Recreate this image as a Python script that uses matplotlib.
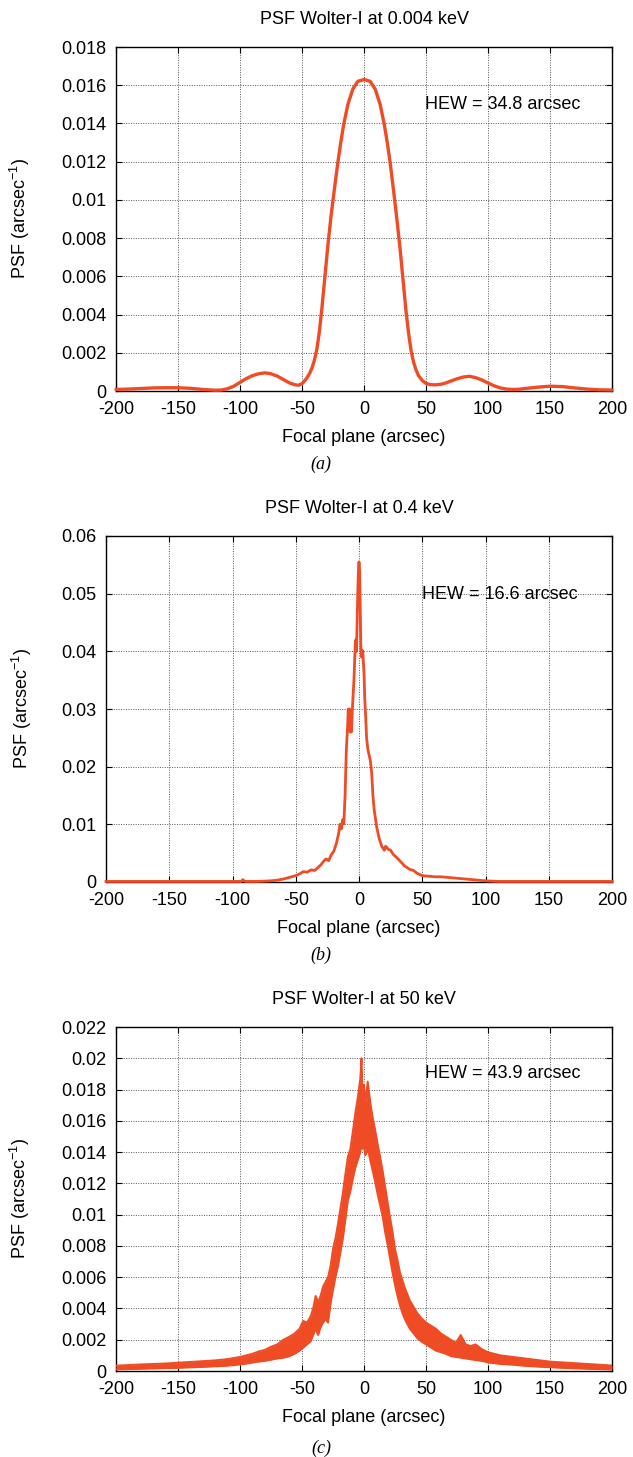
import matplotlib
matplotlib.use("Agg")
import matplotlib.pyplot as plt
from matplotlib.ticker import FuncFormatter

plt.rcParams['font.family'] = ['Liberation Sans', 'DejaVu Sans']
plt.rcParams['mathtext.default'] = 'regular'

LINE_COLOR = '#EF4B24'

# ---------------- data ----------------
titles = ["PSF Wolter-I at 0.004 keV", "PSF Wolter-I at 0.4 keV", "PSF Wolter-I at 50 keV"]
hew_labels = ["HEW = 34.8 arcsec", "HEW = 16.6 arcsec", "HEW = 43.9 arcsec"]
panel_tags = ["(a)", "(b)", "(c)"]
x_ticks = [-200, -150, -100, -50, 0, 50, 100, 150, 200]
y_ticks_a = [0, 0.002, 0.004, 0.006, 0.008, 0.01, 0.012, 0.014, 0.016, 0.018]
y_ticks_b = [0, 0.01, 0.02, 0.03, 0.04, 0.05, 0.06]
y_ticks_c = [0, 0.002, 0.004, 0.006, 0.008, 0.01, 0.012, 0.014, 0.016, 0.018, 0.02, 0.022]

# panel (a): 0.004 keV
a_x = [-200, -190, -180, -170, -160, -150, -140, -130, -120, -115, -110, -105, -100,
       -95, -90, -85, -80, -75, -70, -65, -60, -56, -53, -50, -47, -44, -42, -40, -38,
       -36, -34, -31.5, -29, -26.5, -24, -21, -19, -16.5, -13, -9, -5, 0, 5, 9, 13,
       16.5, 19, 21, 24, 26.5, 29, 31.5, 34, 36, 38, 40, 42, 44, 47, 50, 53, 57, 62,
       66, 70, 75, 80, 85, 90, 95, 100, 105, 110, 115, 120, 125, 130, 140, 150, 160,
       170, 180, 190, 200]
a_y = [0.00008, 0.0001, 0.00013, 0.00016, 0.00017, 0.00017, 0.00014, 0.00008, 0.00004,
       0.00005, 0.00012, 0.00025, 0.00045, 0.00065, 0.0008, 0.0009, 0.00095, 0.0009,
       0.00078, 0.0006, 0.00042, 0.00033, 0.0003, 0.00038, 0.0006, 0.0009, 0.0012,
       0.0016, 0.0022, 0.0031, 0.0043, 0.0060, 0.0077, 0.0092, 0.0105, 0.0120, 0.0129,
       0.0139, 0.0150, 0.0158, 0.0162, 0.0163, 0.0162, 0.0158, 0.0150, 0.0139, 0.0129,
       0.0120, 0.0104, 0.0090, 0.0075, 0.0058, 0.0041, 0.0030, 0.0021, 0.0015, 0.0011,
       0.0008, 0.00055, 0.0004, 0.00034, 0.00032, 0.00035, 0.00042, 0.00052, 0.00064,
       0.00073, 0.00077, 0.0007, 0.00058, 0.00042, 0.00027, 0.00016, 0.0001, 0.00008,
       0.00009, 0.00013, 0.0002, 0.00025, 0.00023, 0.00016, 0.0001, 0.00006, 0.00005]

# panel (b): 0.4 keV
b_x = [-200, -150, -120, -100, -95, -93, -92, -90, -80, -70, -65, -60, -55, -50, -47,
       -44, -41, -38, -35, -32, -30, -28, -26, -24, -22, -20, -18, -16, -15, -14, -13,
       -12, -11, -10.5, -10, -9, -8.5, -8, -7.5, -7, -6.5, -6, -5, -4, -3, -2.5, -2,
       -1.5, -1, -0.5, 0, 0.5, 1, 1.5, 2, 2.5, 3, 4, 4.5, 5, 6, 7, 8, 9, 10, 11, 12,
       13, 14, 16, 18, 20, 21, 22, 23, 25, 27, 30, 33, 36, 40, 43, 46, 50, 55, 60, 65,
       70, 75, 80, 90, 100, 110, 120, 150, 200]
b_y = [0.0001, 0.0001, 0.0001, 0.0001, 0.0001, 0.0001, 0.0004, 0.0001, 0.0001, 0.0002,
       0.0003, 0.0005, 0.0008, 0.0011, 0.0014, 0.0018, 0.0017, 0.0021, 0.0020, 0.0026,
       0.0030, 0.0036, 0.0040, 0.0037, 0.0047, 0.0053, 0.0066, 0.0085, 0.0100, 0.0092,
       0.0108, 0.0101, 0.0150, 0.0190, 0.0230, 0.0270, 0.0300, 0.0280, 0.0300, 0.0260,
       0.0270, 0.0260, 0.0310, 0.0350, 0.0410, 0.0420, 0.0400, 0.0450, 0.0500, 0.0540,
       0.0555, 0.0540, 0.0470, 0.0405, 0.0390, 0.0402, 0.0400, 0.0360, 0.0320, 0.0300,
       0.0250, 0.0230, 0.0220, 0.0210, 0.0190, 0.0150, 0.0125, 0.0110, 0.0095, 0.0075,
       0.0062, 0.0055, 0.0062, 0.0060, 0.0057, 0.0055, 0.0048, 0.0042, 0.0035, 0.0028,
       0.0022, 0.0020, 0.0015, 0.0011, 0.0010, 0.0009, 0.0009, 0.0008, 0.0007, 0.0006,
       0.0004, 0.0002, 0.0001, 0.0001, 0.0001, 0.0001]

# panel (c): 50 keV (noisy band: upper / lower envelope)
c_x = [-200, -190, -180, -170, -160, -150, -140, -130, -120, -110, -100, -95, -90, -85,
       -80, -75, -70, -65, -60, -56, -52, -49, -46, -43, -41, -39, -37, -35, -33, -31,
       -29, -27, -25, -23, -21, -19, -17, -15, -13, -11, -9, -7, -5, -3, -2, -1, 0, 1,
       2, 3, 5, 7, 9, 11, 13, 15, 17, 19, 21, 23, 25, 27, 29, 31, 33, 35, 37, 40, 43,
       46, 50, 54, 58, 62, 66, 70, 74, 78, 82, 86, 90, 95, 100, 110, 120, 130, 140,
       150, 160, 170, 180, 190, 200]
c_upper = [0.00034, 0.00038, 0.00042, 0.00045, 0.00048, 0.00053, 0.00058, 0.00063,
           0.00068, 0.00076, 0.0009, 0.001, 0.0011, 0.00125, 0.00135, 0.00155, 0.0017,
           0.0020, 0.0022, 0.0024, 0.0027, 0.0032, 0.0031, 0.0035, 0.0040, 0.0048,
           0.0044, 0.0048, 0.0054, 0.0057, 0.0060, 0.0067, 0.0078, 0.0085, 0.0094,
           0.0104, 0.0114, 0.0126, 0.0137, 0.0142, 0.0153, 0.0165, 0.0175, 0.0187,
           0.0200, 0.0172, 0.0183, 0.0170, 0.0178, 0.0185, 0.0172, 0.0162, 0.0154,
           0.0145, 0.0137, 0.0128, 0.0118, 0.0108, 0.0098, 0.0089, 0.0078, 0.0071,
           0.0063, 0.0058, 0.0053, 0.0049, 0.0045, 0.0041, 0.0037, 0.0034, 0.0031,
           0.0029, 0.0027, 0.0024, 0.0022, 0.0020, 0.0018, 0.0023, 0.0017, 0.0016,
           0.0017, 0.0014, 0.0012, 0.001, 0.0009, 0.0008, 0.0007, 0.0006, 0.00055,
           0.0005, 0.00045, 0.0004, 0.00035]
c_lower = [0.0001, 0.00012, 0.00014, 0.00016, 0.00018, 0.0002, 0.00023, 0.00026, 0.0003,
           0.00034, 0.00042, 0.00047, 0.00054, 0.0006, 0.00065, 0.00072, 0.0008, 0.00085,
           0.00095, 0.0011, 0.0013, 0.0015, 0.0017, 0.0019, 0.0023, 0.0027, 0.0023,
           0.0028, 0.0031, 0.0033, 0.0031, 0.0043, 0.0052, 0.0060, 0.0067, 0.0076,
           0.0085, 0.0097, 0.0109, 0.0115, 0.0123, 0.0130, 0.0135, 0.0140, 0.0146,
           0.0142, 0.0146, 0.0138, 0.0140, 0.0142, 0.0135, 0.0128, 0.0121, 0.0113,
           0.0106, 0.0099, 0.0089, 0.0081, 0.0072, 0.0063, 0.0055, 0.0048, 0.0042,
           0.0037, 0.0033, 0.0030, 0.0027, 0.0024, 0.0021, 0.0019, 0.0017, 0.0015,
           0.0013, 0.0012, 0.0011, 0.00095, 0.0009, 0.00085, 0.0008, 0.00075, 0.0007,
           0.00065, 0.00055, 0.00045, 0.0004, 0.00033, 0.00028, 0.00024, 0.0002,
           0.00017, 0.00014, 0.00012, 0.0001]

# ---------------- figure ----------------
W, H = 633, 1457
fig = plt.figure(figsize=(W / 100, H / 100), dpi=100)

def px_axes(left, top, right, bottom):
    return fig.add_axes([left / W, 1 - bottom / H, (right - left) / W, (bottom - top) / H])

ax_a = px_axes(116, 47, 612, 391)
ax_b = px_axes(106, 536, 612, 882)
ax_c = px_axes(116, 1027, 612, 1371)

fmt = FuncFormatter(lambda v, p: "%g" % round(v, 6))
FS = 13

def style(ax, yticks, title, hew, hew_xy, tag, tag_y, ylab_x):
    ax.set_xlim(-200, 200)
    ax.set_ylim(yticks[0], yticks[-1])
    ax.set_xticks(x_ticks)
    ax.set_yticks(yticks)
    ax.xaxis.set_major_formatter(fmt)
    ax.yaxis.set_major_formatter(fmt)
    ax.tick_params(direction='in', top=True, right=True, length=4, width=0.8,
                   labelsize=FS, colors='black')
    ax.tick_params(axis='x', pad=7)
    ax.tick_params(axis='y', pad=7)
    ax.grid(True, color='#555555', linewidth=0.7, linestyle=(0, (1, 1.5)))
    ax.set_axisbelow(True)
    for s in ax.spines.values():
        s.set_linewidth(1.0)
        s.set_color('black')
    ax.text(*hew_xy, hew, fontsize=FS, ha='left', va='center')
    ax.text(0.5, 1.08, title, transform=ax.transAxes, ha='center', va='center', fontsize=FS)
    ax.text(0.5, -0.135, "Focal plane (arcsec)", transform=ax.transAxes,
            ha='center', va='center', fontsize=FS)
    ax.text(ylab_x, 0.5, "PSF (arcsec$^{-1}$)", transform=ax.transAxes, rotation=90,
            ha='center', va='center', fontsize=FS)
    fig.text(0.507, tag_y, tag, ha='center', va='center', fontsize=FS,
             family='Liberation Serif', style='italic')

ax_a.plot(a_x, a_y, color=LINE_COLOR, lw=2.4, clip_on=False, zorder=3,
          solid_joinstyle='round', solid_capstyle='round')
style(ax_a, y_ticks_a, titles[0], hew_labels[0], (49, 0.0150), panel_tags[0],
      1 - 464 / H, (20 - 116) / 496)

ax_b.plot(b_x, b_y, color=LINE_COLOR, lw=2.0, clip_on=False, zorder=3,
          solid_joinstyle='round')
style(ax_b, y_ticks_b, titles[1], hew_labels[1], (50, 0.0498), panel_tags[1],
      1 - 955 / H, (22 - 106) / 506)

ax_c.fill_between(c_x, c_lower, c_upper, color=LINE_COLOR, lw=0, zorder=3)
ax_c.plot(c_x, c_upper, color=LINE_COLOR, lw=1.4, zorder=3)
ax_c.plot(c_x, c_lower, color=LINE_COLOR, lw=1.4, zorder=3)
style(ax_c, y_ticks_c, titles[2], hew_labels[2], (49, 0.0190), panel_tags[2],
      1 - 1448 / H, (20 - 116) / 496)

fig.savefig("out.png", dpi=100, facecolor='white')
